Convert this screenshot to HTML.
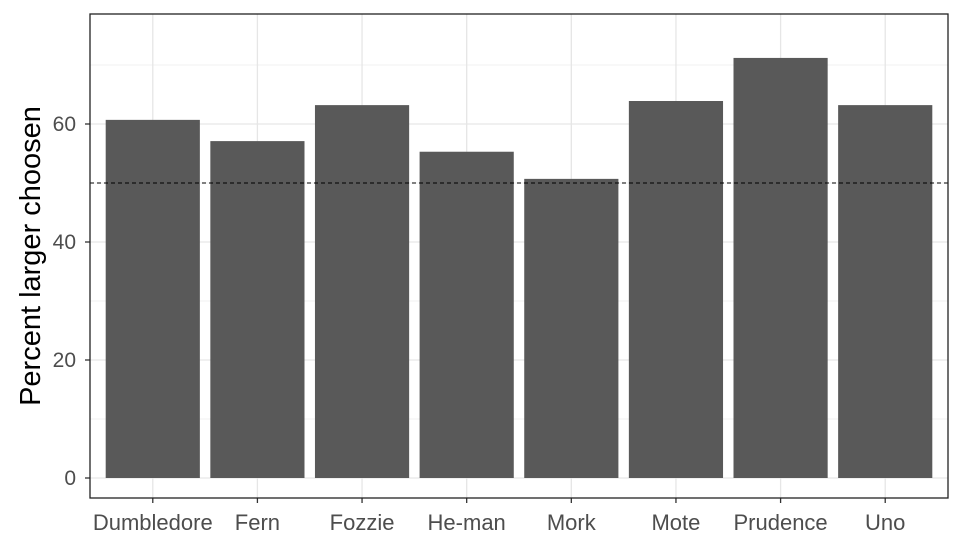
<!DOCTYPE html>
<html><head><meta charset="utf-8"><style>
body{margin:0;background:#fff;}
svg text{font-family:"Liberation Sans",Arial,sans-serif;}
</style></head><body>
<svg id="chart" width="963" height="550">
<rect width="963" height="550" fill="#fff"/>
<g id="grid"></g><g id="bars"></g><g id="axes"></g>
</svg>
<script>
const categories=["Dumbledore","Fern","Fozzie","He-man","Mork","Mote","Prudence","Uno"];
const values=[60.7,57.1,63.2,55.3,50.7,63.9,71.2,63.2];
const yTicks=[0,20,40,60];
const yMinor=[10,30,50,70];
const refValue=50;
const L=90,R=948,T=14,B=498;
const y=v=>478-v*5.9;
const step=(R-L)/(categories.length-1+1.2);
const x=i=>L+step*(0.6+i);
const NS="http://www.w3.org/2000/svg";
function mk(tag,attrs,parent,text){const e=document.createElementNS(NS,tag);for(const k in attrs)e.setAttribute(k,attrs[k]);if(text!==undefined)e.textContent=text;parent.appendChild(e);return e;}
const grid=document.getElementById('grid'),bars=document.getElementById('bars'),axes=document.getElementById('axes');
yMinor.forEach(v=>{const l=mk('line',{x1:L,x2:R,y1:y(v),y2:y(v),stroke:'#ebebeb','stroke-width':0.7},grid);

});
yTicks.forEach(v=>{const l=mk('line',{x1:L,x2:R,y1:y(v),y2:y(v),stroke:'#e6e6e6','stroke-width':1.3},grid);


const t=mk('text',{x:L-14,y:y(v)+7,'text-anchor':'end','font-size':21,fill:'#4d4d4d'},axes,String(v));


mk('line',{x1:L-5,x2:L,y1:y(v),y2:y(v),stroke:'#333','stroke-width':1.3},axes);});
categories.forEach((c,i)=>{const g=mk('line',{x1:x(i),x2:x(i),y1:T,y2:B,stroke:'#e6e6e6','stroke-width':1.3},grid);


const bw=step*0.9;
const r=mk('rect',{x:x(i)-bw/2,y:y(values[i]),width:bw,height:y(0)-y(values[i]),fill:'#595959'},bars);


const t=mk('text',{x:x(i),y:B+32,'text-anchor':'middle','font-size':22,fill:'#4d4d4d'},axes,c);


mk('line',{x1:x(i),x2:x(i),y1:B,y2:B+5,stroke:'#333','stroke-width':1.3},axes);});
const rl=mk('line',{x1:L,x2:R,y1:y(refValue),y2:y(refValue),stroke:'#000','stroke-width':1,'stroke-dasharray':'4,3'},bars);


const p=mk('rect',{x:L,y:T,width:R-L,height:B-T,fill:'none',stroke:'#222','stroke-width':1.3},axes);


const yt=mk('text',{x:0,y:0,transform:'translate(40,256) rotate(-90)','text-anchor':'middle','font-size':29,fill:'#000'},axes,'Percent larger choosen');


</script>
</body></html>
